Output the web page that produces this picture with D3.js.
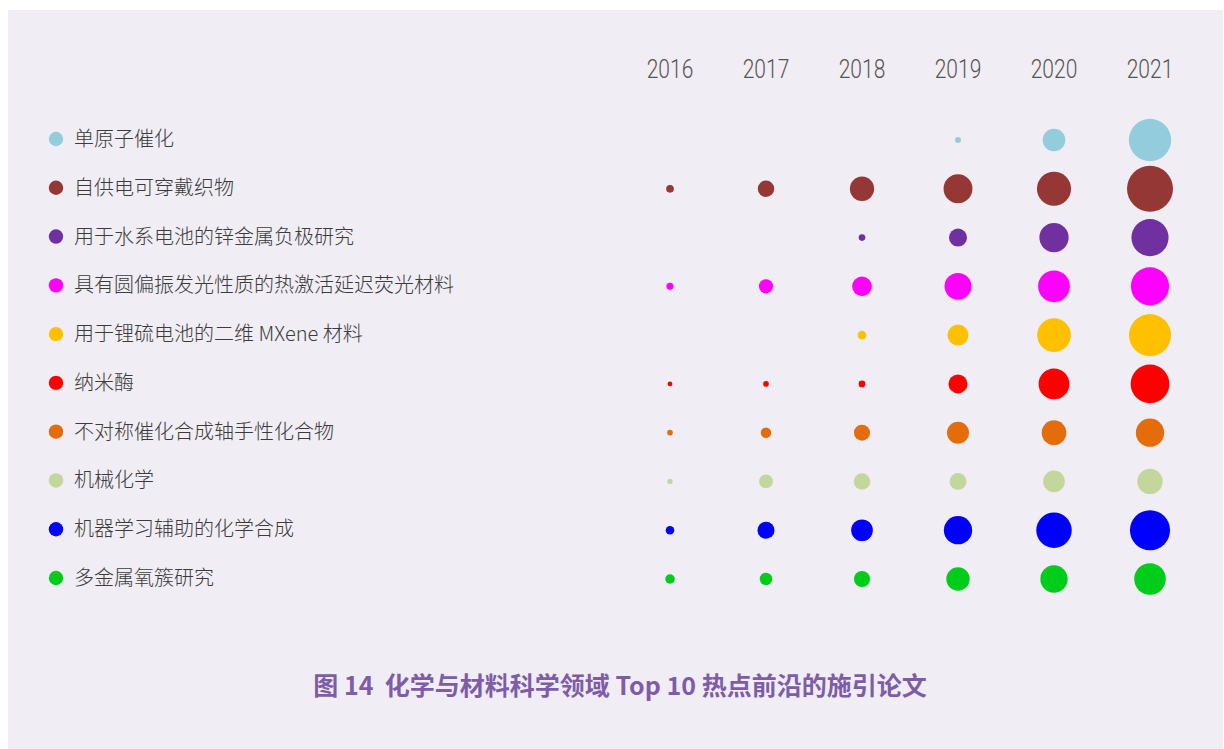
<html>
<head>
<meta charset="utf-8">
<script src="https://d3js.org/d3.v7.min.js"></script>
<style>
  body { margin: 0; background: #fff; }
  .label { font-family: "Noto Sans CJK SC", "Noto Sans", sans-serif; font-size: 20px; font-weight: 300; fill: #3b3b3b; }
  .year { font-family: Roboto, sans-serif; font-size: 25px; font-weight: 300; fill: #555; }
  .title { font-family: "Noto Sans CJK SC", sans-serif; font-size: 25px; font-weight: 700; fill: #7e5ca8; white-space: pre; }
</style>
</head>
<body>
<svg id="chart" width="1224" height="749"></svg>
<script>
// topics, top to bottom
const topics = [
  '单原子催化',
  '自供电可穿戴织物',
  '用于水系电池的锌金属负极研究',
  '具有圆偏振发光性质的热激活延迟荧光材料',
  '用于锂硫电池的二维 MXene 材料',
  '纳米酶',
  '不对称催化合成轴手性化合物',
  '机械化学',
  '机器学习辅助的化学合成',
  '多金属氧簇研究'
];
const years = ['2016', '2017', '2018', '2019', '2020', '2021'];
const colors = ['#93cddd', '#953735', '#7030a0', '#ff00ff', '#ffc000',
                '#ff0000', '#e46c0a', '#c3d69b', '#0000ff', '#00cc1a'];

// estimated citing-paper counts per year (null = no bubble)
const values = [
  [null, null, null, 17, 243, 848],
  [28, 128, 280, 394, 552, 1000],
  [null, null, 21, 154, 404, 652],
  [24, 94, 183, 342, 478, 687],
  [null, null, 35, 208, 539, 836],
  [11, 15, 22, 171, 449, 708],
  [15, 52, 122, 228, 287, 378],
  [13, 90, 128, 133, 222, 303],
  [35, 137, 222, 378, 594, 760],
  [43, 74, 122, 258, 352, 470]
];
const title = '图 14  化学与材料科学领域 Top 10 热点前沿的施引论文';

const svg = d3.select('#chart');

svg.append('rect')
  .attr('x', 8).attr('y', 10)
  .attr('width', 1215).attr('height', 739)
  .attr('fill', '#f0edf5');

const x = d3.scalePoint().domain(years).range([670, 1150]);
const y = d3.scalePoint().domain(topics).range([140, 579]);
const r = d3.scaleSqrt().domain([0, 1000]).range([0, 23]);

// year headers (squeezed to look condensed)
svg.selectAll('text.year')
  .data(years)
  .enter().append('text')
  .attr('class', 'year')
  .attr('transform', d => `translate(${x(d)},78) scale(0.84,1)`)
  .attr('text-anchor', 'middle')
  .text(d => d);

// legend dots + labels
const rows = svg.selectAll('g.row')
  .data(topics)
  .enter().append('g')
  .attr('class', 'row')
  .attr('transform', d => `translate(0,${y(d)})`);

rows.append('circle')
  .attr('cx', 56)
  .attr('cy', -1)
  .attr('r', 7.2)
  .attr('fill', (d, i) => colors[i]);

rows.append('text')
  .attr('class', 'label')
  .attr('x', 74)
  .attr('y', -1)
  .attr('dy', '0.35em')
  .text(d => d);

// bubbles
values.forEach((row, i) => {
  row.forEach((v, j) => {
    if (v == null) return;
    svg.append('circle')
      .attr('cx', x(years[j]))
      .attr('cy', y(topics[i]))
      .attr('r', r(v))
      .attr('fill', colors[i]);
  });
});

svg.append('text')
  .attr('class', 'title')
  .attr('x', 620)
  .attr('y', 695)
  .attr('text-anchor', 'middle')
  .text(title);
</script>
</body>
</html>
